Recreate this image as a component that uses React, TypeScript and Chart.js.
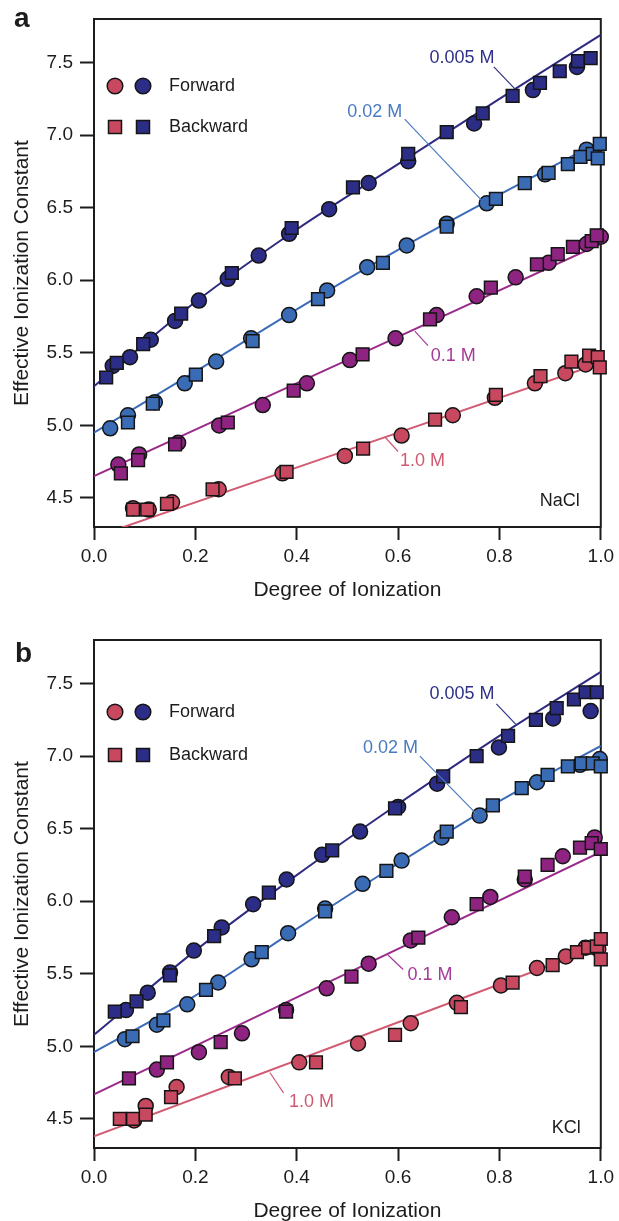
import React, { useEffect, useRef } from 'react';
import { Chart, registerables } from 'chart.js';

Chart.register(...registerables);

type Pt = [number, number];

const FONT = '"Liberation Sans", Arial, Helvetica, sans-serif';
const INK = '#1c1c1c';

// Axis ticks
const xTicks = [0, 0.2, 0.4, 0.6, 0.8, 1.0];
const yTicks = [4.5, 5.0, 5.5, 6.0, 6.5, 7.0, 7.5];
const concentrations = ['0.005 M', '0.02 M', '0.1 M', '1.0 M'];

const markerColors = ['#2b2d86', '#3a6cb6', '#8e2381', '#c8495f'];
const lineColors = ['#2f2b80', '#3b6bb9', '#9b2b8b', '#d25b73'];
const labelColors = ['#2f3188', '#4a7bc0', '#a53a98', '#cf5a72'];

// ---------- Panel a: NaCl ----------
const naclFwd005: Pt[] = [[0.037, 5.41], [0.071, 5.47], [0.112, 5.59], [0.16, 5.72], [0.207, 5.86], [0.264, 6.01], [0.325, 6.17], [0.385, 6.32], [0.464, 6.49], [0.542, 6.67], [0.62, 6.82], [0.75, 7.08], [0.866, 7.31], [0.953, 7.47]];
const naclBwd005: Pt[] = [[0.024, 5.33], [0.045, 5.43], [0.097, 5.56], [0.172, 5.77], [0.272, 6.05], [0.39, 6.36], [0.511, 6.64], [0.62, 6.87], [0.696, 7.02], [0.767, 7.15], [0.826, 7.27], [0.88, 7.36], [0.919, 7.44], [0.955, 7.51], [0.98, 7.53]];
const naclFwd002: Pt[] = [[0.032, 4.98], [0.067, 5.07], [0.12, 5.16], [0.179, 5.29], [0.241, 5.44], [0.31, 5.60], [0.385, 5.76], [0.46, 5.93], [0.539, 6.09], [0.617, 6.24], [0.696, 6.39], [0.775, 6.53], [0.89, 6.73], [0.972, 6.90]];
const naclBwd002: Pt[] = [[0.067, 5.02], [0.116, 5.15], [0.201, 5.35], [0.313, 5.58], [0.442, 5.87], [0.57, 6.12], [0.696, 6.37], [0.793, 6.56], [0.85, 6.67], [0.897, 6.74], [0.935, 6.80], [0.96, 6.85], [0.984, 6.87], [0.998, 6.94], [0.994, 6.84]];
const naclFwd01: Pt[] = [[0.048, 4.73], [0.089, 4.80], [0.166, 4.88], [0.247, 5.00], [0.333, 5.14], [0.42, 5.29], [0.505, 5.45], [0.595, 5.60], [0.676, 5.76], [0.755, 5.89], [0.832, 6.02], [0.897, 6.12], [0.972, 6.25], [1.0, 6.30]];
const naclBwd01: Pt[] = [[0.053, 4.67], [0.087, 4.76], [0.16, 4.87], [0.264, 5.02], [0.394, 5.24], [0.53, 5.49], [0.663, 5.73], [0.783, 5.95], [0.874, 6.11], [0.915, 6.18], [0.945, 6.23], [0.982, 6.27], [0.992, 6.31]];
const naclFwd10: Pt[] = [[0.077, 4.43], [0.108, 4.42], [0.154, 4.47], [0.246, 4.56], [0.372, 4.67], [0.495, 4.79], [0.607, 4.93], [0.708, 5.07], [0.791, 5.19], [0.87, 5.29], [0.93, 5.36], [0.97, 5.42]];
const naclBwd10: Pt[] = [[0.077, 4.42], [0.105, 4.42], [0.144, 4.46], [0.234, 4.56], [0.38, 4.68], [0.531, 4.84], [0.673, 5.04], [0.793, 5.21], [0.881, 5.34], [0.942, 5.44], [0.977, 5.48], [0.994, 5.47], [0.998, 5.40]];

// fitted curves
const fitX6 = [0, 0.2, 0.4, 0.6, 0.8, 1.0];
const fitX2 = [0, 1.0];
const naclFit005 = [5.27, 5.85, 6.35, 6.80, 7.25, 7.69];
const naclFit002 = [4.95, 5.37, 5.80, 6.21, 6.59, 6.96];
const naclFit01 = [4.65, 6.25];
const naclFit10 = [4.23, 5.43];

// ---------- Panel b: KCl ----------
const kclFwd005: Pt[] = [[0.063, 5.25], [0.106, 5.37], [0.15, 5.51], [0.197, 5.66], [0.252, 5.82], [0.314, 5.98], [0.38, 6.15], [0.45, 6.32], [0.525, 6.48], [0.6, 6.65], [0.677, 6.81], [0.799, 7.06], [0.906, 7.26], [0.98, 7.31]];
const kclBwd005: Pt[] = [[0.041, 5.24], [0.084, 5.31], [0.15, 5.49], [0.237, 5.76], [0.345, 6.06], [0.47, 6.35], [0.594, 6.64], [0.689, 6.86], [0.755, 7.00], [0.817, 7.14], [0.872, 7.25], [0.913, 7.33], [0.947, 7.39], [0.97, 7.44], [0.992, 7.44]];
const kclFwd002: Pt[] = [[0.061, 5.05], [0.124, 5.15], [0.184, 5.29], [0.245, 5.44], [0.311, 5.60], [0.383, 5.78], [0.456, 5.95], [0.53, 6.12], [0.607, 6.28], [0.686, 6.44], [0.761, 6.59], [0.874, 6.82], [0.959, 6.94], [0.998, 6.98]];
const kclBwd002: Pt[] = [[0.076, 5.07], [0.137, 5.18], [0.221, 5.39], [0.331, 5.65], [0.456, 5.93], [0.577, 6.21], [0.696, 6.48], [0.787, 6.66], [0.844, 6.78], [0.895, 6.87], [0.935, 6.93], [0.962, 6.95], [0.984, 6.95], [1.0, 6.93]];
const kclFwd01: Pt[] = [[0.124, 4.84], [0.207, 4.96], [0.292, 5.09], [0.379, 5.25], [0.459, 5.40], [0.542, 5.57], [0.625, 5.73], [0.706, 5.89], [0.782, 6.03], [0.85, 6.15], [0.925, 6.31], [0.988, 6.44]];
const kclBwd01: Pt[] = [[0.069, 4.78], [0.144, 4.89], [0.25, 5.03], [0.379, 5.24], [0.508, 5.48], [0.64, 5.75], [0.755, 5.98], [0.85, 6.17], [0.895, 6.25], [0.959, 6.37], [0.982, 6.40], [1.0, 6.36]];
const kclFwd10: Pt[] = [[0.079, 4.49], [0.102, 4.59], [0.163, 4.72], [0.266, 4.79], [0.405, 4.89], [0.521, 5.02], [0.625, 5.16], [0.716, 5.30], [0.803, 5.42], [0.874, 5.54], [0.931, 5.62], [0.97, 5.68], [0.995, 5.67]];
const kclBwd10: Pt[] = [[0.051, 4.50], [0.077, 4.50], [0.102, 4.53], [0.152, 4.65], [0.278, 4.78], [0.438, 4.89], [0.594, 5.08], [0.724, 5.27], [0.826, 5.44], [0.905, 5.56], [0.953, 5.65], [0.975, 5.68], [0.992, 5.69], [1.0, 5.74], [1.0, 5.60]];

const kclFit005 = [5.08, 5.66, 6.18, 6.67, 7.14, 7.58];
const kclFit002 = [4.96, 5.35, 5.81, 6.26, 6.69, 7.07];
const kclFit01 = [4.67, 6.34];
const kclFit10 = [4.38, 5.69];

interface LabelSpec { text: string; color: string; at: Pt; from: Pt; to: Pt; }
interface PanelSpec {
  letter: string;
  letterPos: Pt;
  salt: string;
  saltAt: Pt;
  top: number;
  fwd: Pt[][];
  bwd: Pt[][];
  fitX: number[][];
  fitY: number[][];
  labels: LabelSpec[];
  legendDy: [number, number];
}

const naclPanel: PanelSpec = {
  letter: 'a',
  letterPos: [14, 27],
  salt: 'NaCl',
  saltAt: [0.919, 4.48],
  top: 0,
  fwd: [naclFwd005, naclFwd002, naclFwd01, naclFwd10],
  bwd: [naclBwd005, naclBwd002, naclBwd01, naclBwd10],
  fitX: [fitX6, fitX6, fitX2, fitX2],
  fitY: [naclFit005, naclFit002, naclFit01, naclFit10],
  labels: [
    { text: concentrations[0], color: labelColors[0], at: [0.726, 7.53], from: [0.789, 7.47], to: [0.830, 7.32] },
    { text: concentrations[1], color: labelColors[1], at: [0.554, 7.16], from: [0.613, 7.11], to: [0.765, 6.55] },
    { text: concentrations[2], color: labelColors[2], at: [0.709, 5.48], from: [0.633, 5.65], to: [0.659, 5.55] },
    { text: concentrations[3], color: labelColors[3], at: [0.648, 4.757], from: [0.574, 4.92], to: [0.600, 4.82] },
  ],
  legendDy: [67, 108],
};

const kclPanel: PanelSpec = {
  letter: 'b',
  letterPos: [15, 41],
  salt: 'KCl',
  saltAt: [0.932, 4.44],
  top: 621,
  fwd: [kclFwd005, kclFwd002, kclFwd01, kclFwd10],
  bwd: [kclBwd005, kclBwd002, kclBwd01, kclBwd10],
  fitX: [fitX6, fitX6, fitX2, fitX2],
  fitY: [kclFit005, kclFit002, kclFit01, kclFit10],
  labels: [
    { text: concentrations[0], color: labelColors[0], at: [0.726, 7.43], from: [0.794, 7.36], to: [0.832, 7.22] },
    { text: concentrations[1], color: labelColors[1], at: [0.585, 7.055], from: [0.643, 7.0], to: [0.755, 6.6] },
    { text: concentrations[2], color: labelColors[2], at: [0.663, 5.49], from: [0.580, 5.63], to: [0.610, 5.53] },
    { text: concentrations[3], color: labelColors[3], at: [0.429, 4.62], from: [0.347, 4.82], to: [0.374, 4.68] },
  ],
  legendDy: [72, 115],
};

const toXY = (a: Pt[]) => a.map(([x, y]) => ({ x, y }));

function buildDatasets(spec: PanelSpec): any[] {
  const ds: any[] = [];
  for (let i = 0; i < 4; i++) {
    ds.push({
      label: concentrations[i] + ' backward',
      data: toXY(spec.bwd[i]),
      pointStyle: 'rect',
      pointRadius: 9,
      backgroundColor: markerColors[i],
      borderColor: '#151515',
      borderWidth: 1.5,
      showLine: false,
      clip: false,
      order: 1,
    });
    ds.push({
      label: concentrations[i] + ' forward',
      data: toXY(spec.fwd[i]),
      pointStyle: 'circle',
      pointRadius: 7.5,
      backgroundColor: markerColors[i],
      borderColor: '#151515',
      borderWidth: 1.5,
      showLine: false,
      clip: false,
      order: 2,
    });
    ds.push({
      label: concentrations[i] + ' fit',
      data: spec.fitX[i].map((x, k) => ({ x, y: spec.fitY[i][k] })),
      showLine: true,
      borderColor: lineColors[i],
      borderWidth: 2,
      pointRadius: 0,
      fill: false,
      cubicInterpolationMode: 'monotone',
      order: 3,
    });
  }
  return ds;
}

function framePlugin() {
  return {
    id: 'frame',
    beforeDatasetsDraw(chart: any) {
      const { ctx, chartArea: a } = chart;
      ctx.save();
      ctx.strokeStyle = INK;
      ctx.lineWidth = 2;
      ctx.beginPath();
      ctx.moveTo(a.left - 1, a.top);
      ctx.lineTo(a.right, a.top);
      ctx.lineTo(a.right, a.bottom + 1);
      ctx.stroke();
      ctx.restore();
    },
  };
}

function annotPlugin(spec: PanelSpec) {
  return {
    id: 'annot',
    afterDatasetsDraw(chart: any) {
      const { ctx, chartArea: a } = chart;
      const xs = chart.scales.x;
      const ys = chart.scales.y;
      const px = (p: Pt): Pt => [xs.getPixelForValue(p[0]), ys.getPixelForValue(p[1])];
      ctx.save();
      // concentration labels with leader lines
      for (const l of spec.labels) {
        const f = px(l.from);
        const t = px(l.to);
        ctx.strokeStyle = l.color;
        ctx.lineWidth = 1.2;
        ctx.beginPath();
        ctx.moveTo(f[0], f[1]);
        ctx.lineTo(t[0], t[1]);
        ctx.stroke();
        const p = px(l.at);
        ctx.fillStyle = l.color;
        ctx.font = `18px ${FONT}`;
        ctx.textAlign = 'center';
        ctx.textBaseline = 'middle';
        ctx.fillText(l.text, p[0], p[1]);
      }
      // salt name
      const s = px(spec.saltAt);
      ctx.fillStyle = INK;
      ctx.font = `18px ${FONT}`;
      ctx.textAlign = 'center';
      ctx.textBaseline = 'middle';
      ctx.fillText(spec.salt, s[0], s[1]);

      // legend
      const lx1 = a.left + 21;
      const lx2 = a.left + 49;
      const cy = a.top + spec.legendDy[0];
      const sy = a.top + spec.legendDy[1];
      const legendFills = [markerColors[3], markerColors[0]];
      [lx1, lx2].forEach((x, k) => {
        ctx.beginPath();
        ctx.arc(x, cy, 7.8, 0, Math.PI * 2);
        ctx.fillStyle = legendFills[k];
        ctx.fill();
        ctx.lineWidth = 1.5;
        ctx.strokeStyle = '#151515';
        ctx.stroke();
        ctx.fillStyle = legendFills[k];
        ctx.fillRect(x - 6.5, sy - 6.5, 13, 13);
        ctx.strokeRect(x - 6.5, sy - 6.5, 13, 13);
      });
      ctx.fillStyle = INK;
      ctx.textAlign = 'left';
      ctx.textBaseline = 'middle';
      ctx.font = `18px ${FONT}`;
      ctx.fillText('Forward', a.left + 75, cy);
      ctx.fillText('Backward', a.left + 75, sy);

      // panel letter
      ctx.font = `bold 28px ${FONT}`;
      ctx.textBaseline = 'alphabetic';
      ctx.fillText(spec.letter, spec.letterPos[0], spec.letterPos[1]);
      ctx.restore();
    },
  };
}

function buildConfig(spec: PanelSpec): any {
  const tickFont = { family: FONT, size: 19 };
  const titleFont = { family: FONT, size: 21, lineHeight: 1 };
  return {
    type: 'scatter',
    data: { datasets: buildDatasets(spec) },
    options: {
      animation: false,
      responsive: false,
      devicePixelRatio: 1,
      events: [],
      layout: { padding: { top: 19, right: 18, left: 0, bottom: 0 } },
      plugins: { legend: { display: false }, tooltip: { enabled: false } },
      scales: {
        x: {
          type: 'linear',
          position: 'bottom',
          min: 0,
          max: 1,
          afterFit: (s: any) => { s.height = 83; },
          afterBuildTicks: (s: any) => { s.ticks = xTicks.map((v) => ({ value: v })); },
          ticks: {
            callback: (v: any) => Number(v).toFixed(1),
            font: tickFont,
            color: INK,
            padding: 5,
            maxRotation: 0,
            autoSkip: false,
          },
          grid: { drawOnChartArea: false, drawTicks: true, tickLength: 13, tickWidth: 2, tickColor: INK },
          border: { display: true, color: INK, width: 2 },
          title: { display: true, text: 'Degree of Ionization', font: titleFont, color: INK, padding: { top: 0, bottom: 9.5 } },
        },
        y: {
          type: 'linear',
          position: 'left',
          min: 4.3,
          max: 7.8,
          afterFit: (s: any) => { s.width = 94; },
          afterBuildTicks: (s: any) => { s.ticks = yTicks.map((v) => ({ value: v })); },
          ticks: {
            callback: (v: any) => Number(v).toFixed(1),
            font: tickFont,
            color: INK,
            padding: 7,
            autoSkip: false,
          },
          grid: { drawOnChartArea: false, drawTicks: true, tickLength: 14, tickWidth: 2, tickColor: INK },
          border: { display: true, color: INK, width: 2 },
          title: { display: true, text: 'Effective Ionization Constant', font: titleFont, color: INK, padding: { top: 11.5, bottom: 0 } },
        },
      },
    },
    plugins: [framePlugin(), annotPlugin(spec)],
  };
}

function Panel({ spec }: { spec: PanelSpec }) {
  const ref = useRef<HTMLCanvasElement>(null);
  useEffect(() => {
    if (!ref.current) return;
    const chart = new Chart(ref.current, buildConfig(spec));
    return () => chart.destroy();
  }, [spec]);
  return (
    <canvas
      ref={ref}
      width={619}
      height={610}
      style={{ position: 'absolute', left: 0, top: spec.top, display: 'block' }}
    />
  );
}

export default function App() {
  return (
    <div
      style={{
        position: 'absolute',
        left: 0,
        top: 0,
        width: 619,
        height: 1221,
        overflow: 'hidden',
        background: '#ffffff',
      }}
    >
      <Panel spec={naclPanel} />
      <Panel spec={kclPanel} />
    </div>
  );
}
